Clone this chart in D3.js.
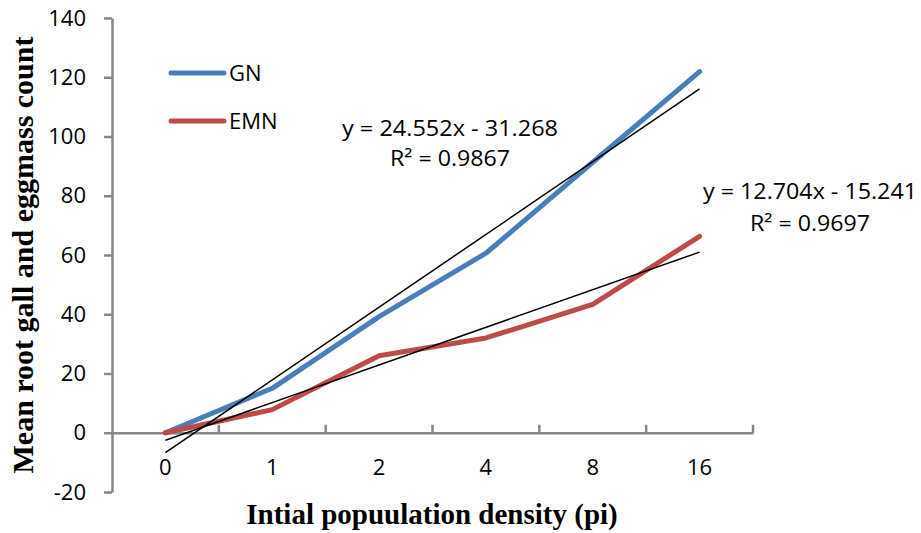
<!DOCTYPE html>
<html><head><meta charset="utf-8">
<script src="https://cdn.jsdelivr.net/npm/d3@7"></script>
<style>body{margin:0;background:#fff}</style>
</head><body>
<script>
const categories = ["0","1","2","4","8","16"];
const gnValues  = [0, 15.0, 39.2, 60.6, 91.3, 121.9];
const emnValues = [0, 7.8, 26.0, 32.0, 43.3, 66.3];
const yTicks = [-20, 0, 20, 40, 60, 80, 100, 120, 140];
const trendGN  = {slope: 24.552, intercept: -31.268, label1: "y = 24.552x - 31.268", label2: "R² = 0.9867"};
const trendEMN = {slope: 12.704, intercept: -15.241, label1: "y = 12.704x - 15.241", label2: "R² = 0.9697"};
const seriesNames = ["GN", "EMN"];

const W = 921, H = 533;
const svg = d3.select("body").append("svg").attr("width", W).attr("height", H);
const font = "'Open Sans', sans-serif";
const fs = 22;
const pLeft = 112, pRight = 753, pTop = 18, pBottom = 492;

const x = d3.scaleBand().domain(categories).range([pLeft, pRight]);
const y = d3.scaleLinear().domain([-20, 140]).range([pBottom, pTop]);
const xi = i => x(categories[i]) + x.bandwidth() / 2;
const axisColor = "#878787";

// Y axis
const gy = svg.append("g").attr("transform", `translate(${pLeft},0)`)
  .call(d3.axisLeft(y).tickValues(yTicks).tickFormat(d => String(d)).tickSize(8).tickPadding(18).tickSizeOuter(0));
gy.select(".domain").attr("stroke", axisColor).attr("stroke-width", 2.5);
gy.selectAll(".tick line").attr("stroke", axisColor).attr("stroke-width", 2.5);
gy.selectAll(".tick text").attr("font-family", font).attr("font-size", fs).attr("fill", "#000");

// X axis at y=0
const gx = svg.append("g").attr("transform", `translate(0,${y(0)})`)
  .call(d3.axisBottom(x).tickSize(0).tickPadding(27));
gx.select(".domain").attr("stroke", axisColor).attr("stroke-width", 2.5);
gx.selectAll(".tick text").attr("font-family", font).attr("font-size", fs).attr("fill", "#000");
// category boundary tick marks (pointing up)
const bounds = categories.map((c) => x(c) + x.bandwidth());
svg.append("g").selectAll("line").data(bounds).join("line")
  .attr("x1", d => d).attr("x2", d => d)
  .attr("y1", y(0)).attr("y2", y(0) - 8)
  .attr("stroke", axisColor).attr("stroke-width", 2.5);

// series lines
const line = d3.line().x((d, i) => xi(i)).y(d => y(d));
svg.append("path").datum(gnValues).attr("d", line).attr("fill", "none")
  .attr("stroke", "#4A7EBB").attr("stroke-width", 5).attr("stroke-linecap", "round").attr("stroke-linejoin", "round");
svg.append("path").datum(emnValues).attr("d", line).attr("fill", "none")
  .attr("stroke", "#BE4B48").attr("stroke-width", 5).attr("stroke-linecap", "round").attr("stroke-linejoin", "round");

// trendlines
[trendGN, trendEMN].forEach(t => {
  svg.append("line")
    .attr("x1", xi(0)).attr("y1", y(t.slope * 1 + t.intercept))
    .attr("x2", xi(5)).attr("y2", y(t.slope * 6 + t.intercept))
    .attr("stroke", "#000").attr("stroke-width", 1.5);
});

// trend labels
function trendLabel(t, cx, y1, y2, w1, w2) {
  svg.append("text").attr("x", cx).attr("y", y1).attr("text-anchor", "middle")
    .attr("font-family", font).attr("font-size", fs)
    .attr("textLength", w1).attr("lengthAdjust", "spacingAndGlyphs").text(t.label1);
  svg.append("text").attr("x", cx).attr("y", y2).attr("text-anchor", "middle")
    .attr("font-family", font).attr("font-size", fs)
    .attr("textLength", w2).attr("lengthAdjust", "spacingAndGlyphs").text(t.label2);
}
trendLabel(trendGN, 450, 136, 166, 216, 120);
trendLabel(trendEMN, 810, 199, 231, 214, 120);

// legend
const legColors = ["#4A7EBB", "#BE4B48"];
const legY = [73, 121];
seriesNames.forEach((n, i) => {
  svg.append("line").attr("x1", 171).attr("x2", 224).attr("y1", legY[i]).attr("y2", legY[i])
    .attr("stroke", legColors[i]).attr("stroke-width", 5).attr("stroke-linecap", "round");
  svg.append("text").attr("x", 229).attr("y", legY[i] + 8).attr("font-family", font)
    .attr("font-size", fs).text(n);
});

// axis titles
const serif = "'Liberation Serif', 'Times New Roman', serif";
svg.append("text").attr("x", 432).attr("y", 524).attr("text-anchor", "middle")
  .attr("font-family", serif).attr("font-weight", "bold")
  .attr("font-size", 29).text("Intial popuulation density (pi)");
svg.append("text").attr("transform", "translate(33,255) rotate(-90)").attr("text-anchor", "middle")
  .attr("font-family", serif).attr("font-weight", "bold")
  .attr("font-size", 30).text("Mean root gall and eggmass count");
</script>
</body></html>
